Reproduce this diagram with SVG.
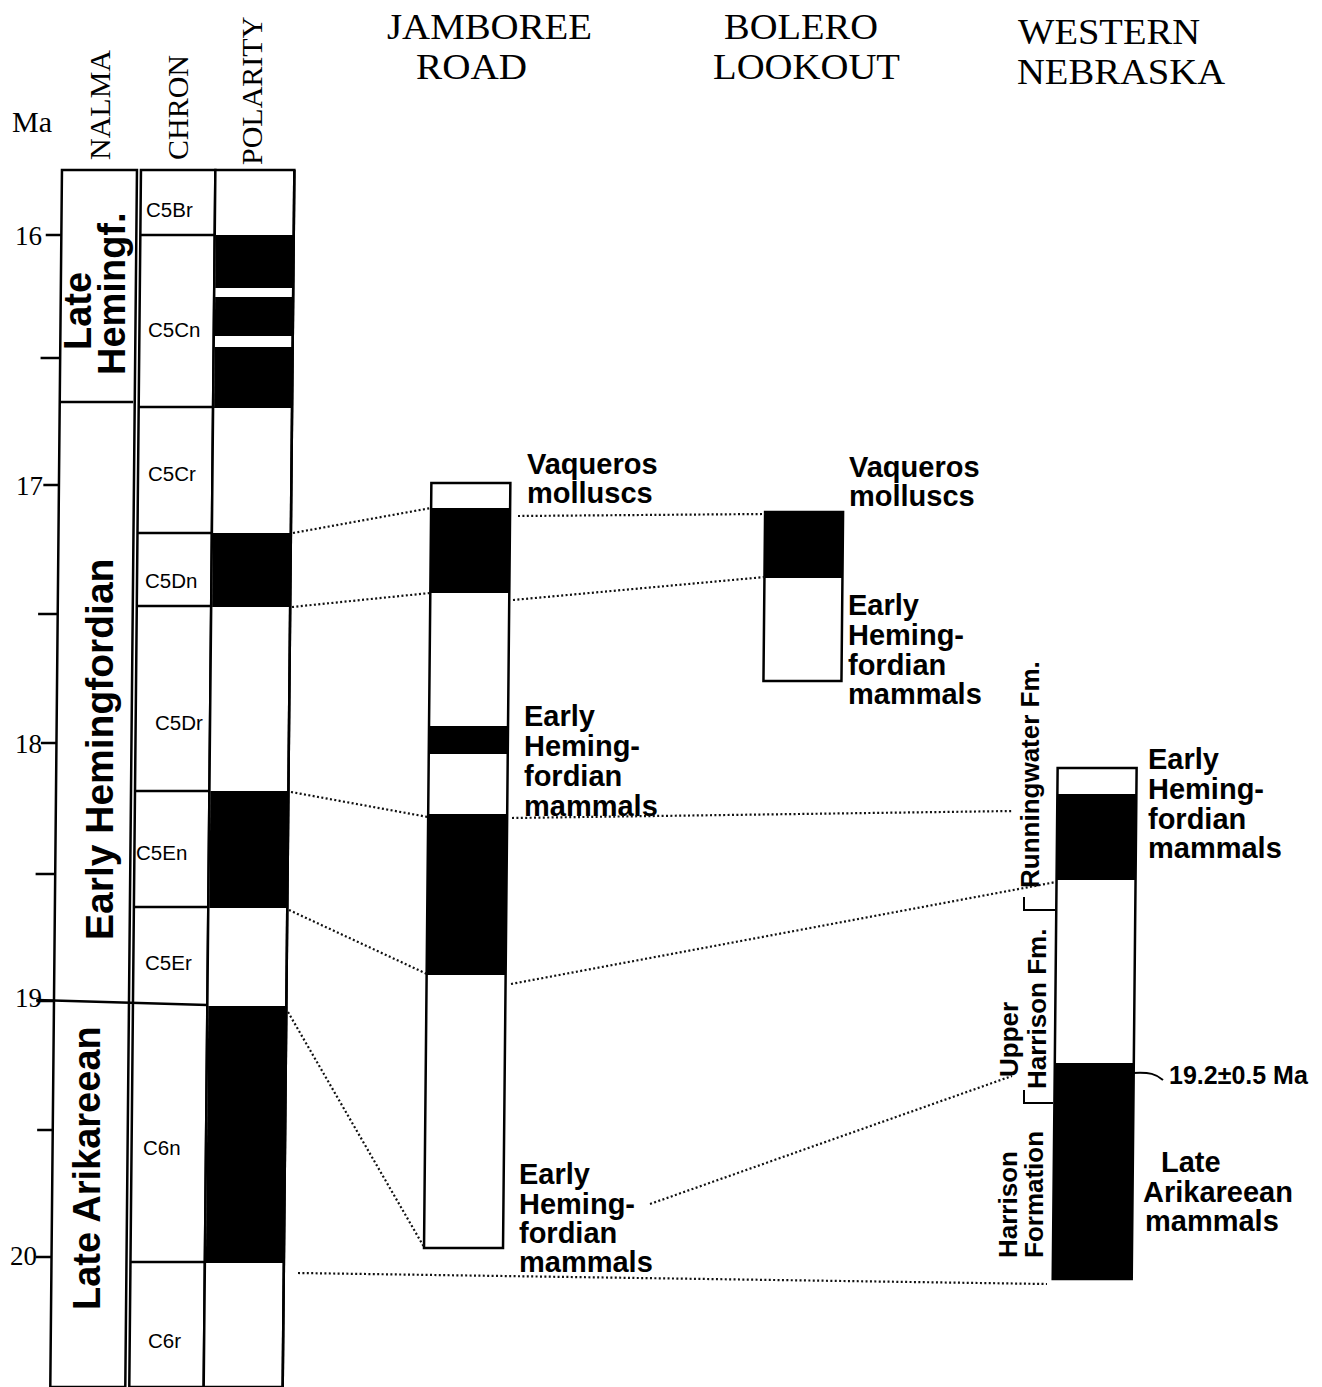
<svg xmlns="http://www.w3.org/2000/svg" width="1322" height="1387" viewBox="0 0 1322 1387">
<style>
.ln{stroke:#000;stroke-width:2.5;fill:none}
.thin{stroke:#000;stroke-width:2;fill:none}
.blk{fill:#000;stroke:none}
.box{fill:#fff;stroke:#000;stroke-width:2.5}
.dot{stroke:#111;stroke-width:2.2;stroke-dasharray:2 2.4;fill:none}
.ser{font-family:"Liberation Serif","Times New Roman",serif;fill:#000}
.hd{font-size:36px}
.vh{font-size:30px}
.num{font-size:27px}
.sans{font-family:"Liberation Sans",Arial,Helvetica,sans-serif;fill:#000}
.lab{font-weight:bold;font-size:29px}
.big{font-weight:bold;font-size:38px}
.rot{font-weight:bold;font-size:26px}
.chr{font-size:20.5px}
</style>
<rect x="0" y="0" width="1322" height="1387" fill="#fff"/>

<g id="headers" class="ser hd">
  <text x="387" y="39" textLength="205" lengthAdjust="spacingAndGlyphs">JAMBOREE</text>
  <text x="416" y="79" textLength="111" lengthAdjust="spacingAndGlyphs">ROAD</text>
  <text x="724" y="39" textLength="154" lengthAdjust="spacingAndGlyphs">BOLERO</text>
  <text x="713" y="79" textLength="187" lengthAdjust="spacingAndGlyphs">LOOKOUT</text>
  <text x="1018" y="44" textLength="182" lengthAdjust="spacingAndGlyphs">WESTERN</text>
  <text x="1017" y="84" textLength="208" lengthAdjust="spacingAndGlyphs">NEBRASKA</text>
</g>

<g id="axis">
  <text class="ser" x="12" y="132" font-size="30">Ma</text>
  <g transform="skewX(-0.55)">
    <path class="ln" d="M48,235H64M44,358H64M48,485H64M44,614H64M48,743H64M44,874H64M46,1001H64M48,1130H64M48,1257H64"/>
  </g>
  <g class="ser num">
    <text x="15" y="245">16</text>
    <text x="16" y="495">17</text>
    <text x="15" y="753">18</text>
    <text x="15" y="1007">19</text>
    <text x="10" y="1265">20</text>
  </g>
</g>

<g id="col-nalma">
  <text class="ser vh" transform="translate(110,160) rotate(-90)">NALMA</text>
  <g transform="skewX(-0.55)">
    <rect class="box" x="63.6" y="170" width="75" height="1217"/>
    <path class="ln" d="M63.6,402H137"/>
  </g>
  <g class="sans big">
    <text transform="translate(91,350) rotate(-90)">Late</text>
    <text transform="translate(125,375) rotate(-90)">Hemingf.</text>
    <text transform="translate(113,940) rotate(-90)" font-size="39">Early Hemingfordian</text>
    <text transform="translate(100,1310) rotate(-90)">Late Arikareean</text>
  </g>
</g>

<g id="col-chron">
  <text class="ser vh" transform="translate(188,160) rotate(-90)">CHRON</text>
  <g transform="skewX(-0.55)">
    <rect class="box" x="142.6" y="170" width="74.4" height="1217"/>
    <path class="ln" d="M142.6,235H217M142.6,407H217M142.6,533H217M142.6,606H217M142.6,791H217M142.6,907H217M142.6,1262H217"/>
    <path class="ln" d="M46,1000L217,1005"/>
  </g>
  <g class="sans chr">
    <text x="146" y="217">C5Br</text>
    <text x="148" y="337">C5Cn</text>
    <text x="148" y="481">C5Cr</text>
    <text x="145" y="588">C5Dn</text>
    <text x="155" y="730">C5Dr</text>
    <text x="136" y="860">C5En</text>
    <text x="145" y="970">C5Er</text>
    <text x="143" y="1155">C6n</text>
    <text x="148" y="1348">C6r</text>
  </g>
</g>

<g id="col-polarity">
  <text class="ser vh" transform="translate(262,165) rotate(-90)">POLARITY</text>
  <g transform="skewX(-0.55)">
    <rect class="box" x="217" y="170" width="79" height="1217"/>
    <rect class="blk" x="218" y="235" width="78" height="53"/>
    <rect class="blk" x="218" y="297" width="78" height="39"/>
    <rect class="blk" x="218" y="347" width="78" height="61"/>
    <rect class="blk" x="218" y="533" width="78" height="74"/>
    <rect class="blk" x="218" y="791" width="78" height="117"/>
    <rect class="blk" x="218" y="1006" width="78" height="257"/>
    <path class="ln" d="M296,170V1387"/>
  </g>
</g>

<g id="col-jamboree">
  <g transform="skewX(-0.55)">
    <rect class="box" x="436" y="483" width="79" height="765"/>
    <rect class="blk" x="436" y="508" width="79" height="85"/>
    <rect class="blk" x="436" y="726" width="79" height="28"/>
    <rect class="blk" x="436" y="814" width="79" height="161"/>
  </g>
  <g class="sans lab">
    <text x="527" y="474">Vaqueros</text>
    <text x="527" y="503">molluscs</text>
    <text x="524" y="726">Early</text>
    <text x="524" y="756">Heming-</text>
    <text x="524" y="786">fordian</text>
    <text x="524" y="816">mammals</text>
    <text x="519" y="1184">Early</text>
    <text x="519" y="1214">Heming-</text>
    <text x="519" y="1243">fordian</text>
    <text x="519" y="1272">mammals</text>
  </g>
</g>

<g id="col-bolero">
  <g transform="skewX(-0.55)">
    <rect class="box" x="770" y="512" width="78" height="169"/>
    <rect class="blk" x="770" y="512" width="78" height="66"/>
  </g>
  <g class="sans lab">
    <text x="849" y="477">Vaqueros</text>
    <text x="849" y="506">molluscs</text>
    <text x="848" y="615">Early</text>
    <text x="848" y="645">Heming-</text>
    <text x="848" y="675">fordian</text>
    <text x="848" y="704">mammals</text>
  </g>
</g>

<g id="col-nebraska">
  <g transform="skewX(-0.55)">
    <rect class="box" x="1065" y="768" width="79" height="511"/>
    <rect class="blk" x="1065" y="794" width="79" height="86"/>
    <rect class="blk" x="1065" y="1063" width="79" height="216"/>
  </g>
  <path class="thin" d="M1024,897V910H1055M1024,1090V1103H1053"/>
  <path class="thin" d="M1133,1073C1150,1072 1156,1074 1163,1080"/>
  <g class="sans rot">
    <text transform="translate(1039,888) rotate(-90)">Runningwater Fm.</text>
    <text transform="translate(1018,1077) rotate(-90)">Upper</text>
    <text transform="translate(1046,1089) rotate(-90)">Harrison Fm.</text>
    <text transform="translate(1017,1258) rotate(-90)">Harrison</text>
    <text transform="translate(1043,1258) rotate(-90)">Formation</text>
  </g>
  <g class="sans lab">
    <text x="1148" y="769">Early</text>
    <text x="1148" y="799">Heming-</text>
    <text x="1148" y="829">fordian</text>
    <text x="1148" y="858">mammals</text>
    <text x="1161" y="1172">Late</text>
    <text x="1143" y="1202">Arikareean</text>
    <text x="1145" y="1231">mammals</text>
  </g>
  <text class="sans" x="1169" y="1084" font-size="25" font-weight="bold">19.2±0.5 Ma</text>
</g>

<g id="connectors" class="dot">
  <path d="M293,533L431,508"/>
  <path d="M518,516L765,514"/>
  <path d="M292,607L430,593"/>
  <path d="M513,600L765,577"/>
  <path d="M291,792L428,817"/>
  <path d="M512,818L1013,811"/>
  <path d="M289,910L427,974"/>
  <path d="M511,984L1056,882"/>
  <path d="M288,1012L424,1247"/>
  <path d="M650,1204L1012,1076"/>
  <path d="M298,1273L1047,1284"/>
</g>
</svg>
